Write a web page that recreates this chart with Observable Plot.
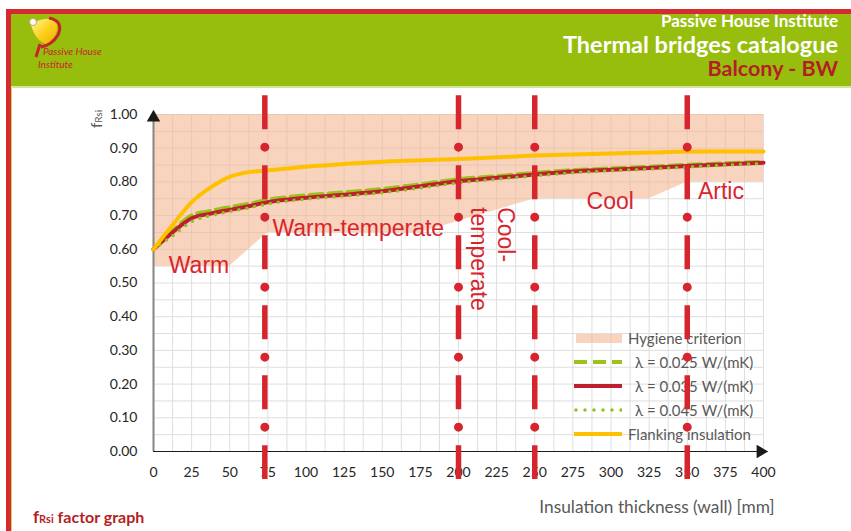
<!DOCTYPE html>
<html>
<head>
<meta charset="utf-8">
<script src="https://cdn.jsdelivr.net/npm/d3@7"></script>
<script src="https://cdn.jsdelivr.net/npm/@observablehq/plot@0.6"></script>
<style>
  html, body { margin: 0; padding: 0; background: #fff; }
  #page { position: relative; width: 851px; height: 531px; overflow: hidden; background: #fff; font-family: Lato, "Open Sans", sans-serif; }
  .abs { position: absolute; }
  #chartBase { position: absolute; left: 0; top: 87px; z-index: 1; }
  #legend { position: absolute; left: 0; top: 0; z-index: 2; font-family: Lato, sans-serif; font-size: 15px; color: #595959; }
  #chartTop { position: absolute; left: 0; top: 87px; z-index: 3; }
  .lg-row { position: absolute; height: 18px; line-height: 18px; white-space: nowrap; }
  .hd { position: absolute; right: 13px; font-family: Lato, sans-serif; font-weight: bold; line-height: 1; white-space: nowrap; }
</style>
</head>
<body>
<div id="page">
  <!-- frame & header -->
  <div class="abs" style="left:6px;top:9px;width:845px;height:5px;background:#D42A30;"></div>
  <div class="abs" style="left:6px;top:9px;width:5px;height:522px;background:#D42A30;"></div>
  <div class="abs" style="left:11px;top:86px;width:1px;height:445px;background:#C6DA55;"></div>
  <div class="abs" style="left:11px;top:14px;width:840px;height:72px;background:#97BE0D;"></div>
  <div class="abs" style="left:11px;top:86px;width:840px;height:2px;background:#D4E59A;"></div>
  <svg class="abs" style="left:22px;top:14px;" width="95" height="62" viewBox="22 14 95 62">
    <defs>
      <linearGradient id="lg1" x1="0" y1="0" x2="1" y2="1">
        <stop offset="0" stop-color="#FFF6A0"/>
        <stop offset="0.5" stop-color="#FFD21F"/>
        <stop offset="1" stop-color="#F0A800"/>
      </linearGradient>
    </defs>
    <path d="M31 25 Q44 15 56 21 Q61 33 47 44 Q36 42 31 25 Z" fill="url(#lg1)"/>
    <path d="M49 18 Q64 21 58 35 Q52 45 41 47" fill="none" stroke="#C8232B" stroke-width="3"/>
    <path d="M40 44 L36 57" stroke="#C8232B" stroke-width="3"/>
    <circle cx="33" cy="22" r="3.5" fill="#fff" stroke="#C9A36A" stroke-width="1"/>
    <text x="43" y="55" font-family="Lato, sans-serif" font-style="italic" font-size="10" fill="#C8232B">Passive House</text>
    <text x="38" y="68" font-family="Lato, sans-serif" font-style="italic" font-size="10" fill="#C8232B">Institute</text>
  </svg>
  <div class="hd" style="top:12px;font-size:17px;color:#fff;">Passive House Institute</div>
  <div class="hd" style="top:33px;font-size:23.5px;color:#fff;">Thermal bridges catalogue</div>
  <div class="hd" style="top:58px;font-size:21.5px;color:#B41F24;">Balcony - BW</div>

  <!-- y axis label -->
  <div class="abs" style="left:79px;top:110px;width:34px;text-align:center;transform:rotate(-90deg);font-family:Lato,sans-serif;font-size:15px;color:#595959;">f<span style="font-size:10px;">Rsi</span></div>

  <!-- x axis title & caption -->
  <div class="abs" style="left:526px;top:496px;width:262px;text-align:center;font-family:Lato,sans-serif;font-size:17.3px;color:#595959;white-space:nowrap;">Insulation thickness (wall) [mm]</div>
  <div class="abs" style="left:33px;top:506px;font-family:Lato,sans-serif;font-weight:bold;font-size:16px;color:#B41F24;white-space:nowrap;"><span style="font-size:17px;">f</span><span style="font-size:11px;">Rsi</span> factor graph</div>

  <div id="chartBase"></div>
  <div id="legend"></div>
  <div id="chartTop"></div>
</div>
<script>
// ---------- data ----------
const xs       = [0, 12.5, 25, 37.5, 50, 62.5, 75, 100, 125, 150, 175, 200, 225, 250, 275, 300, 325, 350, 375, 400];
const lam025   = [0.600, 0.655, 0.700, 0.714, 0.725, 0.735, 0.747, 0.760, 0.769, 0.779, 0.793, 0.808, 0.817, 0.827, 0.835, 0.840, 0.845, 0.851, 0.855, 0.860];
const lam035   = [0.600, 0.650, 0.692, 0.706, 0.717, 0.728, 0.740, 0.753, 0.762, 0.772, 0.787, 0.802, 0.812, 0.822, 0.831, 0.836, 0.841, 0.847, 0.852, 0.857];
const lam045   = [0.600, 0.640, 0.682, 0.700, 0.712, 0.723, 0.735, 0.749, 0.758, 0.768, 0.782, 0.797, 0.808, 0.818, 0.827, 0.833, 0.838, 0.844, 0.850, 0.855];
const flanking = [0.600, 0.672, 0.740, 0.784, 0.815, 0.829, 0.834, 0.845, 0.853, 0.860, 0.864, 0.868, 0.873, 0.878, 0.881, 0.884, 0.887, 0.890, 0.890, 0.890];

const hygX   = [0, 50, 75, 175, 250, 325, 350, 400];
const hygY   = [0.55, 0.55, 0.65, 0.65, 0.75, 0.75, 0.80, 0.80];
const hygTop = 1.0;

const zoneX = [73, 200, 250, 350];
const zoneRuleTop = 1.056, zoneRuleBottom = -0.083;

const zoneLabels = [
  {text: "Warm", x: 10, y: 0.552},
  {text: "Warm-temperate", x: 78, y: 0.662},
  {text: "Cool", x: 284, y: 0.741},
  {text: "Artic", x: 357, y: 0.771}
];
const rotatedLabel = [{text: "Cool-\ntemperate", x: 239, y: 0.725}];

const xTicks = d3.range(0, 401, 25);
const yTicks = d3.range(0, 1.001, 0.1);
const xGrid  = d3.range(0, 401, 12.5);
const yGrid  = d3.range(0, 1.001, 0.05);
const xDomain = [0, 400], yDomain = [0, 1];

const legendItems = [
  {label: "Hygiene criterion", kind: "area"},
  {label: "λ = 0.025 W/(mK)", kind: "dash"},
  {label: "λ = 0.035 W/(mK)", kind: "solid"},
  {label: "λ = 0.045 W/(mK)", kind: "dot"},
  {label: "Flanking insulation", kind: "flank"}
];

// ---------- colours ----------
const RED_ZONE = "#D7252E", RED_LINE = "#BE1E2D", GREEN_DASH = "#9BC31C", GREEN_DOT = "#8DC21F", YELLOW = "#FFC000";
const HYG = "#F3B691";

// ---------- tables ----------
const rows = xs.map((x, i) => ({x, l025: lam025[i], l035: lam035[i], l045: lam045[i], flank: flanking[i]}));
const hyg = hygX.map((x, i) => ({x, y: hygY[i]}));

const frame = {
  width: 851, height: 444,
  marginLeft: 153, marginRight: 88, marginTop: 27, marginBottom: 80,
  x: {domain: xDomain},
  y: {domain: yDomain},
  style: {background: "transparent", fontFamily: "Lato, sans-serif", fontSize: "14px", color: "#262626", overflow: "visible"}
};

const basePlot = Plot.plot({
  ...frame,
  marks: [
    Plot.gridX(xGrid, {stroke: "#dedede", strokeOpacity: 1, strokeWidth: 1}),
    Plot.gridY(yGrid, {stroke: "#dedede", strokeOpacity: 1, strokeWidth: 1}),
    Plot.areaY(hyg, {x: "x", y1: "y", y2: hygTop, fill: HYG, fillOpacity: 0.6}),
    Plot.ruleX([xDomain[0]], {y1: yDomain[0], y2: yDomain[1], stroke: "#868686", strokeWidth: 2}),
    Plot.line(rows, {x: "x", y: "l025", stroke: GREEN_DASH, strokeWidth: 4, strokeDasharray: "13,6", curve: "monotone-x"}),
    Plot.line(rows, {x: "x", y: "l035", stroke: RED_LINE, strokeWidth: 4, curve: "monotone-x"}),
    Plot.line(rows, {x: "x", y: "l045", stroke: GREEN_DOT, strokeWidth: 3.5, strokeDasharray: "0,8", strokeLinecap: "round", curve: "monotone-x"}),
    Plot.line(rows, {x: "x", y: "flank", stroke: YELLOW, strokeWidth: 4, curve: "monotone-x"}),
    Plot.ruleY([yDomain[0]], {x1: xDomain[0], x2: xDomain[1], stroke: "#1a1a1a", strokeWidth: 1.2}),
    Plot.dot([{x: xDomain[0], y: yDomain[1]}], {x: "x", y: "y", symbol: "triangle", r: 5, fill: "#1a1a1a", dy: 3}),
    Plot.dot([{x: xDomain[1], y: yDomain[0]}], {x: "x", y: "y", symbol: "triangle", r: 5, rotate: 90, fill: "#1a1a1a", dx: -3}),
    Plot.axisX({ticks: xTicks, tickSize: 0, tickPadding: 16, label: null, fontSize: 14, fill: "#262626"}),
    Plot.axisY({ticks: yTicks, tickSize: 0, tickPadding: 16, label: null, fontSize: 14, fill: "#262626", tickFormat: d3.format(".2f")})
  ]
});
document.getElementById("chartBase").appendChild(basePlot);

const overlayPlot = Plot.plot({
  ...frame,
  x: {domain: xDomain, axis: null},
  y: {domain: yDomain, axis: null},
  marks: [
    Plot.ruleX(zoneX, {y1: zoneRuleTop, y2: zoneRuleBottom, stroke: RED_ZONE, strokeWidth: 5.5, strokeDasharray: "34,36"}),
    Plot.ruleX(zoneX, {y1: zoneRuleTop, y2: zoneRuleBottom, stroke: RED_ZONE, strokeWidth: 9, strokeDasharray: "0,70", strokeDashoffset: 18, strokeLinecap: "round"}),
    Plot.text(zoneLabels, {x: "x", y: "y", text: "text", textAnchor: "start", fill: RED_ZONE, fontSize: 23, fontFamily: "Liberation Sans, Arial, sans-serif"}),
    Plot.text(rotatedLabel, {x: "x", y: "y", text: "text", rotate: 90, textAnchor: "start", lineAnchor: "top", lineHeight: 1.2, fill: RED_ZONE, fontSize: 23, fontFamily: "Liberation Sans, Arial, sans-serif"})
  ]
});
document.getElementById("chartTop").appendChild(overlayPlot);

// ---------- legend ----------
const legendBox = document.getElementById("legend");
const rowTop = [329, 353, 377, 401, 425];
const swatch = {
  area:  `<svg width="48" height="18"><rect x="2" y="5" width="46" height="9" fill="${HYG}" fill-opacity="0.6"/></svg>`,
  dash:  `<svg width="48" height="18"><line x1="0" y1="9" x2="48" y2="9" stroke="${GREEN_DASH}" stroke-width="4" stroke-dasharray="13,6"/></svg>`,
  solid: `<svg width="48" height="18"><line x1="0" y1="9" x2="48" y2="9" stroke="${RED_LINE}" stroke-width="4"/></svg>`,
  dot:   `<svg width="48" height="18"><line x1="2" y1="9" x2="48" y2="9" stroke="${GREEN_DOT}" stroke-width="3.5" stroke-dasharray="0,9" stroke-linecap="round"/></svg>`,
  flank: `<svg width="48" height="18"><line x1="0" y1="9" x2="48" y2="9" stroke="${YELLOW}" stroke-width="4"/></svg>`
};
legendItems.forEach((it, i) => {
  const sw = document.createElement("div");
  sw.className = "lg-row";
  sw.style.left = "574px"; sw.style.top = rowTop[i] + "px";
  sw.innerHTML = swatch[it.kind];
  legendBox.appendChild(sw);
  const tx = document.createElement("div");
  tx.className = "lg-row";
  const indent = (it.kind === "area" || it.kind === "flank") ? 628 : 635;
  tx.style.left = indent + "px"; tx.style.top = rowTop[i] + "px";
  tx.textContent = it.label;
  legendBox.appendChild(tx);
});
</script>
</body>
</html>
